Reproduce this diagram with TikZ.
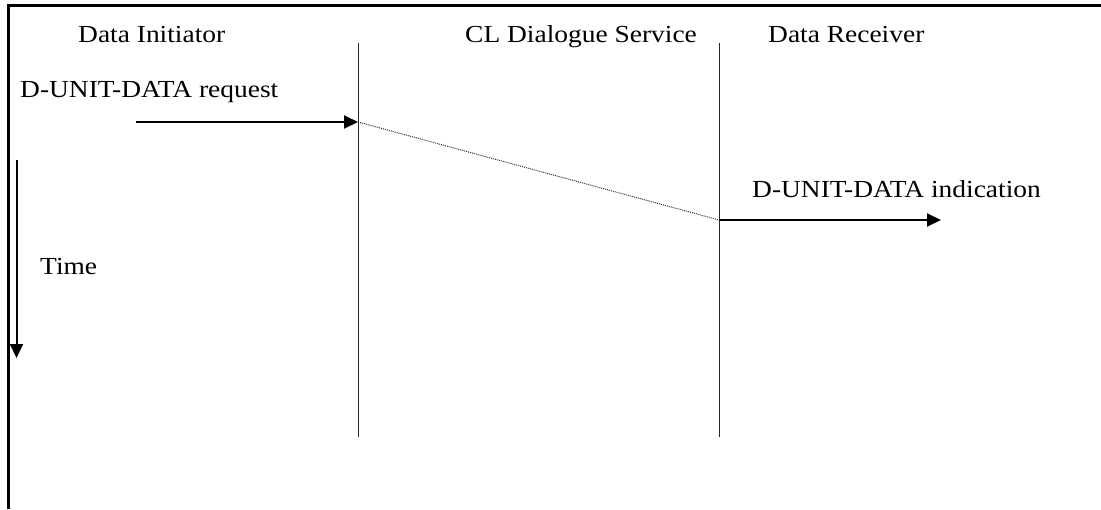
\documentclass[tikz,border=0pt]{standalone}
\usepackage{fontspec}
\setmainfont[FakeStretch=1.12]{Liberation Serif}
\usetikzlibrary{arrows.meta}
\begin{document}
\begin{tikzpicture}[x=1pt,y=-1pt,
  lbl/.style={anchor=base west,inner sep=0pt,font=\fontsize{24.5}{30}\selectfont},
  lifeline/.style={line width=1pt,black!85},
  msg/.style={line width=2pt,-{Triangle[length=14pt,width=13pt]}},
  frame/.style={line width=3pt}]
  \useasboundingbox (0,0) rectangle (1101,509);
  % frame edges along the top and the left
  \draw[frame] (8.5,509) -- (8.5,5.5) -- (1101,5.5);
  % column titles
  \node[lbl] (ti) at (78,42) {Data Initiator};
  \node[lbl] (tc) at (465,42) {CL Dialogue Service};
  \node[lbl] (tr) at (768,42) {Data Receiver};
  % service lifelines
  \coordinate (s1) at (358,43);
  \coordinate (s1b) at (358,437);
  \coordinate (s2) at (719,43);
  \coordinate (s2b) at (719,437);
  \draw[lifeline] (s1) -- (s1b);
  \draw[lifeline] (s2) -- (s2b);
  % request primitive
  \node[lbl] (req) at (20,97) {D-UNIT-DATA request};
  \coordinate (rq0) at (136,122);
  \coordinate (rq1) at (358,122);
  \draw[msg] (rq0) -- (rq1);
  % transfer through the service
  \coordinate (in0) at (719,220);
  \draw[densely dotted,line width=1pt,black!80] (rq1) -- (in0);
  % indication primitive
  \node[lbl] (ind) at (752,197) {D-UNIT-DATA indication};
  \coordinate (in1) at (941,220);
  \draw[msg] (in0) -- (in1);
  % time axis
  \node[lbl] (time) at (40,274) {Time};
  \coordinate (t0) at (16.5,160);
  \coordinate (t1) at (16.5,358);
  \draw[msg] (t0) -- (t1);
\end{tikzpicture}
\end{document}
